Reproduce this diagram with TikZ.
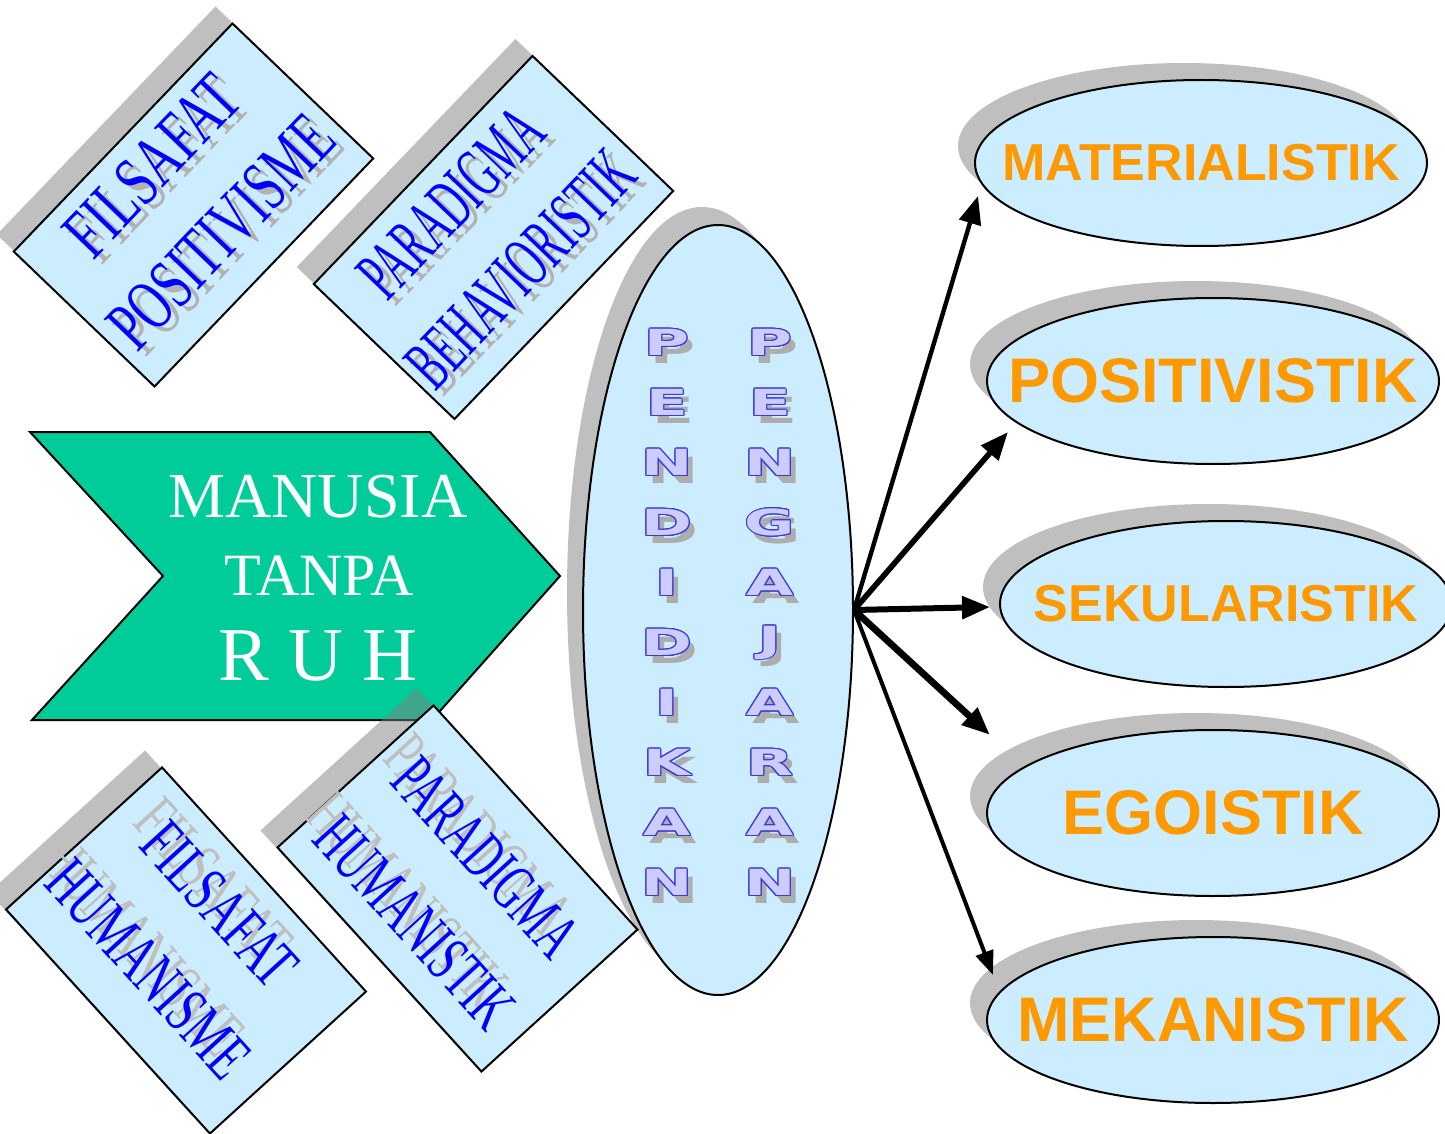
\documentclass[tikz,border=0pt]{standalone}
\usepackage{graphicx}
\usepackage{fontspec}
\setmainfont{Liberation Serif}
\newfontfamily\ovalfont{Liberation Sans}
\newfontfamily\widefont[FakeStretch=1.7]{DejaVu Sans}
\usepackage{contour}
\usetikzlibrary{shapes.geometric, arrows.meta, positioning, calc}

\definecolor{paleblue}{RGB}{204,236,255}
\definecolor{chevgreen}{RGB}{0,204,153}
\definecolor{ovalorange}{RGB}{255,153,0}
\definecolor{lavender}{RGB}{204,204,255}
\definecolor{edgeblue}{RGB}{60,60,220}
\contourlength{0.5pt}

% stretched serif words inside the tilted cards
\newcommand{\wordart}[2]{\resizebox{#1}{24pt}{#2}}
\newcommand{\lowart}[2]{\resizebox{#1}{22pt}{#2}}

\begin{document}
\begin{tikzpicture}[x=0.5pt, y=-0.5pt,
  card/.style={draw, line width=1pt, fill=paleblue, rectangle, minimum width=158pt, minimum height=97.5pt, inner sep=0pt},
  lowcard/.style={card, minimum width=151.5pt, minimum height=105.5pt},
  shade/.style={fill=black!50, fill opacity=0.5, draw=none},
  oval/.style={draw, line width=1pt, fill=paleblue, ellipse, minimum width=226pt, minimum height=83pt, inner sep=0pt},
  bigoval/.style={oval, minimum width=135pt, minimum height=385pt},
  ovaltext/.style={text=ovalorange, font=\ovalfont\bfseries\fontsize{31.5}{32}\selectfont},
  smallovaltext/.style={ovaltext, font=\ovalfont\bfseries\fontsize{26}{27}\selectfont},
  bluetext/.style={text=blue, align=center, font=\fontsize{20}{48}\selectfont, inner sep=0pt},
  ghost/.style={bluetext, text=black!30},
  lowghost/.style={bluetext, text=black!25},
  letter/.style={font=\widefont\bfseries\fontsize{18}{18}\selectfont, text=lavender, inner sep=0pt},
  lettershade/.style={letter, text=black!32},
  arr/.style={-{Triangle[length=14pt, width=11pt]}, line width=2.5pt},
  manusia/.style={text=white, anchor=base, font=\fontsize{32}{32}\selectfont}]

\useasboundingbox (0,0) rectangle (1445,1134);

% Chevron
\draw[fill=chevgreen, line width=1pt] (30,432) -- (430,432) -- (560,576) -- (432,720) -- (32,720) -- (163,576) -- cycle;
\node[manusia] (man1) at (318,517) {MANUSIA};
\node[manusia, font=\fontsize{30}{30}\selectfont] (man2) at (319,595) {TANPA};
\node[manusia, font=\fontsize{38}{38}\selectfont] (man3) at (318,680) {R U H};

% Big ellipse
\node[bigoval, shade] (pend-sh) at (702,592) {};
\node[bigoval] (pend) at (718,610) {};
\foreach \ch [count=\i from 0] in {P,E,N,D,I,D,I,K,A,N} {
  \node[lettershade] (pa\i) at (673,{350+60*\i}) {\ch};
  \node[letter] (pd\i) at (667,{343+60*\i}) {\contour{edgeblue}{\ch}};
}
\foreach \ch [count=\i from 0] in {P,E,N,G,A,J,A,R,A,N} {
  \node[lettershade] (pb\i) at (776,{350+60*\i}) {\ch};
  \node[letter] (pj\i) at (770,{343+60*\i}) {\contour{edgeblue}{\ch}};
}

% Cards top
\node[card, shade, rotate=46.2] (fp-sh) at (176.5,188) {};
\node[card, rotate=46.2] (fp) at (193.5,205) {};
\node[ghost, rotate=46.2] (fp-gh) at (195,204) {\wordart{110pt}{FILSAFAT}\\\wordart{146pt}{POSITIVISME}};
\node[bluetext, rotate=46.2] (fp-tx) at (187,199) {\wordart{110pt}{FILSAFAT}\\\wordart{146pt}{POSITIVISME}};

\node[card, shade, rotate=46.2] (pb-sh) at (476.5,220.5) {};
\node[card, rotate=46.2] (pb) at (493.5,237.5) {};
\node[ghost, rotate=46.2] (pb-gh) at (494,241) {\wordart{116pt}{PARADIGMA}\\\wordart{148pt}{BEHAVIORISTIK}};
\node[bluetext, rotate=46.2] (pb-tx) at (486,236) {\wordart{116pt}{PARADIGMA}\\\wordart{148pt}{BEHAVIORISTIK}};

% Cards bottom
\node[lowcard, shade, rotate=-47.7] (fh-sh) at (169,933.5) {};
\node[lowcard, rotate=-47.7] (fh) at (186,950.5) {};
\node[lowghost, rotate=-47.7] (fh-gh) at (178,914) {\lowart{98pt}{FILSAFAT}\\\lowart{134pt}{HUMANISME}};
\node[bluetext, rotate=-47.7] (fh-tx) at (184,937) {\lowart{98pt}{FILSAFAT}\\\lowart{134pt}{HUMANISME}};

\node[lowcard, shade, rotate=-47.7] (ph-sh) at (440.5,871.5) {};
\node[lowcard, rotate=-47.7] (ph) at (457.5,888.5) {};
\node[lowghost, rotate=-47.7] (ph-gh) at (443,867) {\lowart{121pt}{PARADIGMA}\\\lowart{131pt}{HUMANISTIK}};
\node[bluetext, rotate=-47.7] (ph-tx) at (450,890) {\lowart{121pt}{PARADIGMA}\\\lowart{131pt}{HUMANISTIK}};

% Outcome ellipses
\node[oval, shade] (mat-sh) at (1184,146) {};
\node[oval, label={[smallovaltext]center:MATERIALISTIK}] (mat) at (1201,163) {};
\node[oval, shade] (pos-sh) at (1196,364) {};
\node[oval, label={[ovaltext]center:POSITIVISTIK}] (pos) at (1213,381) {};
\node[oval, shade] (sek-sh) at (1209,587) {};
\node[oval, label={[smallovaltext]center:SEKULARISTIK}] (sek) at (1226,604) {};
\node[oval, shade] (ego-sh) at (1196,796) {};
\node[oval, label={[ovaltext]center:EGOISTIK}] (ego) at (1213,813) {};
\node[oval, shade] (mek-sh) at (1196,1003) {};
\node[oval, label={[ovaltext]center:MEKANISTIK}] (mek) at (1213,1020) {};

% Arrows
\draw[arr, line width=2.2pt] (pend.east) -- ($(mat)+(-223,33)$);
\draw[arr, line width=2.8pt] (pend.east) -- ($(pos)+(-205,51)$);
\draw[arr, line width=3pt] (pend.east) -- ($(sek)+(-236,3)$);
\draw[arr, line width=3.4pt] (pend.east) -- ($(ego)+(-223,-78)$);
\draw[arr, line width=2pt, -{Triangle[length=12pt, width=9pt]}] (pend.east) -- ($(mek)+(-220,-45)$);
\end{tikzpicture}
\end{document}
